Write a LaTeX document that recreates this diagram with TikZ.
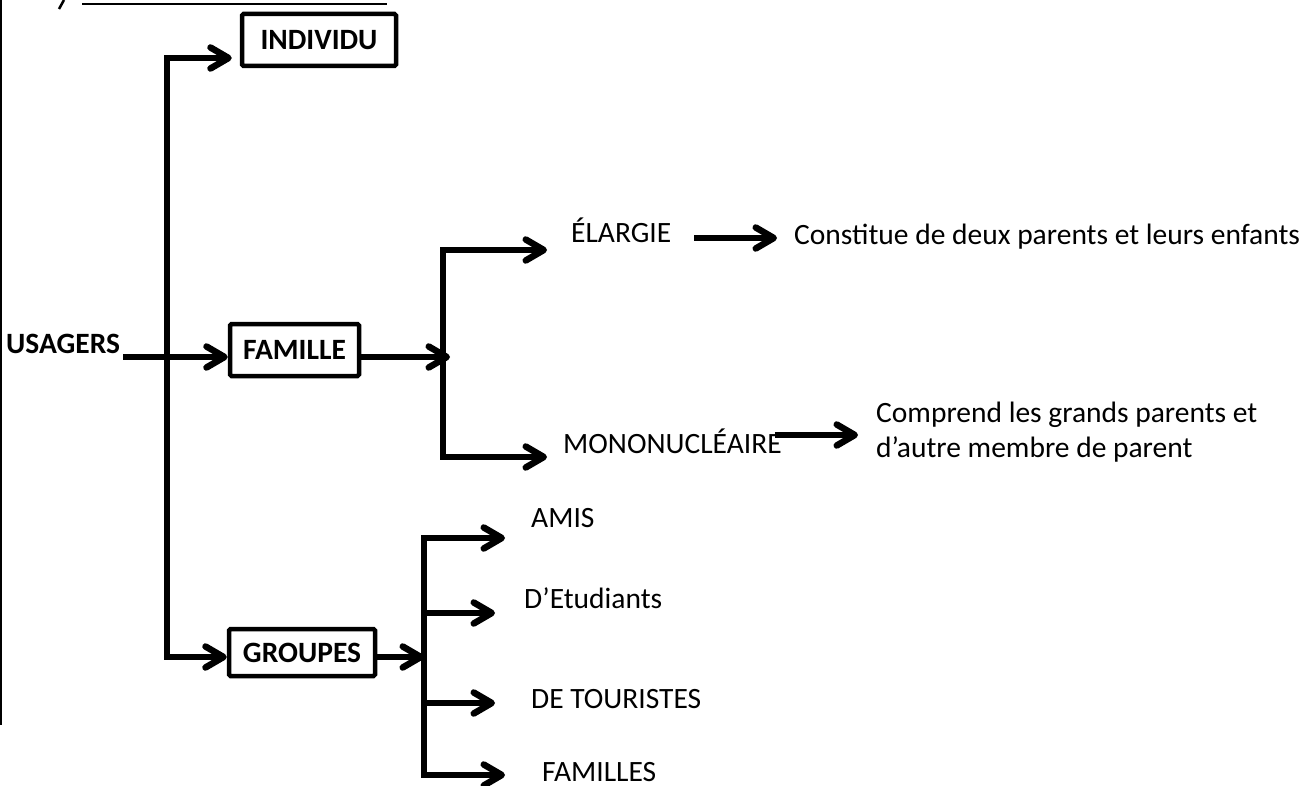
\documentclass[tikz,border=0pt]{standalone}
\usepackage{fontspec}
\setmainfont{Carlito}
\usetikzlibrary{arrows.meta}
\newcommand{\diagfont}{\fontsize{29.5}{35}\selectfont}

\begin{document}
\begin{tikzpicture}[x=1pt, y=-1pt,
    box/.style={draw, line width=4.5pt, rounded corners=1.5pt, minimum height=52pt, inner sep=0pt, font=\diagfont\bfseries},
    lbl/.style={inner sep=0pt, anchor=west, text height=12pt, text depth=2pt, font=\diagfont},
    arr/.style={-{Straight Barb[length=18pt, width=21pt, round]}, line width=6.5pt},
    darr/.style={{Straight Barb[length=18pt, width=21pt, round]}-{Straight Barb[length=18pt, width=21pt, round]}, line width=6.5pt},
    frame/.style={line width=1.5pt}
]
\useasboundingbox (0,0) rectangle (1314,786);

% cut-off frame of the page
\draw[frame] (1,0) -- (1,725);
\draw[frame] (82,4) -- (387,4);
\draw[line width=2.5pt] (64,0) -- (59,9);

% root and first level
\node[lbl, font=\diagfont\bfseries] (usagers) at (6,348) {USAGERS};
\node[box, minimum width=154pt] (individu) at (319,40) {INDIVIDU};
\node[box, minimum width=129pt] (famille) at (294.5,350) {FAMILLE};
\node[box, minimum width=146pt, minimum height=47pt] (groupes) at (302,652.5) {GROUPES};

\coordinate (ufoot) at (123,357);
\coordinate (trunktop) at (167,58);
\coordinate (trunkbot) at (167,657);

\draw[darr, shorten <=8pt] (trunktop -| individu.west) -- (trunktop) -- (trunkbot) -- (trunkbot -| groupes.west);
\draw[arr] (ufoot) -- (ufoot -| famille.west);

% famille branch
\node[lbl] (elargie) at (571,238) {ÉLARGIE};
\node[lbl] (mono) at (563,448) {MONONUCLÉAIRE};
\node[lbl] (constitue) at (794,240) {Constitue de deux parents et leurs enfants};
\node[inner sep=0pt, anchor=base west, align=left, font=\diagfont] (comprend) at (876,457) {Comprend les grands parents et\\d’autre membre de parent};

\coordinate (fj) at (443,357);
\coordinate (eltip) at (547,250);
\coordinate (monotip) at (547,457);

\draw[arr] (famille.east |- fj) -- ([xshift=7pt]fj);
\draw[darr] (eltip) -| (fj) |- (monotip);
\draw[arr, shorten <=23pt, shorten >=17pt] (elargie.east) -- (elargie.east -| constitue.west);
\draw[arr, shorten <=-7pt, shorten >=18pt] ([yshift=13pt]mono.east) -- ([yshift=13pt]mono.east -| comprend.west);

% groupes branch
\node[lbl] (amis) at (531,522) {AMIS};
\node[lbl] (etudiants) at (524,603) {D’Etudiants};
\node[lbl] (touristes) at (531,703) {DE TOURISTES};
\node[lbl] (familles) at (542,776) {FAMILLES};

\coordinate (gj) at (424,657);
\coordinate (amistip) at (505,538);
\coordinate (etutip) at (495,613);
\coordinate (touttip) at (495,703);
\coordinate (famtip) at (505,775);

\draw[arr] (groupes.east |- gj) -- (gj);
\draw[darr] (amistip) -| (gj) |- (famtip);
\draw[arr] (etutip -| gj) -- (etutip);
\draw[arr] (touttip -| gj) -- (touttip);
\end{tikzpicture}
\end{document}
